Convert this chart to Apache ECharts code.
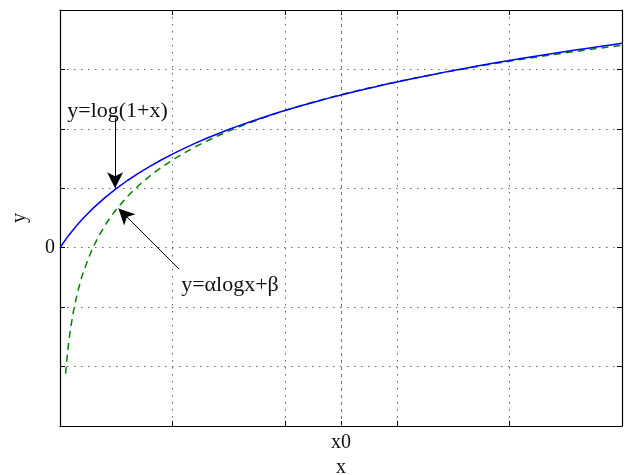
<!DOCTYPE html>
<html>
<head>
<meta charset="utf-8">
<script src="https://cdn.jsdelivr.net/npm/echarts@6.0.0/dist/echarts.min.js"></script>
<style>
  html, body { margin: 0; padding: 0; background: #ffffff; }
  #chart { width: 638px; height: 475px; }
</style>
</head>
<body>
<div id="chart"></div>
<script>
// Exact curve y = log(1 + x)
const xLog = [0, 0.025, 0.05, 0.075, 0.1, 0.15, 0.2, 0.25, 0.3, 0.4, 0.5, 0.6, 0.7, 0.8, 0.9,
  1.0, 1.1, 1.2, 1.3, 1.4, 1.5, 1.6, 1.7, 1.8, 1.9, 2.0, 2.1, 2.2, 2.3, 2.4, 2.5, 2.6, 2.7, 2.8, 2.9,
  3.0, 3.1, 3.2, 3.3, 3.4, 3.5, 3.6, 3.7, 3.8, 3.9, 4.0, 4.1, 4.2, 4.3, 4.4, 4.5, 4.6, 4.7, 4.8, 4.9, 5.0];
const yLog = [0, 0.070, 0.137, 0.200, 0.261, 0.376, 0.483, 0.581, 0.674, 0.843, 0.994, 1.131, 1.255, 1.370, 1.476,
  1.575, 1.668, 1.755, 1.837, 1.914, 1.988, 2.058, 2.125, 2.188, 2.249, 2.308, 2.364, 2.418, 2.470, 2.521, 2.569, 2.616, 2.662, 2.706, 2.749,
  2.790, 2.831, 2.870, 2.908, 2.946, 2.982, 3.017, 3.052, 3.086, 3.119, 3.151, 3.182, 3.213, 3.243, 3.273, 3.302, 3.330, 3.358, 3.385, 3.412, 3.439];

// Approximation y = alpha*log(x) + beta, tangent to the exact curve at x0
const xFit = [0.05, 0.06, 0.07, 0.08, 0.09, 0.1, 0.12, 0.14, 0.16, 0.18, 0.2, 0.25, 0.3, 0.35, 0.4, 0.45, 0.5, 0.6, 0.7, 0.8, 0.9,
  1.0, 1.1, 1.2, 1.3, 1.4, 1.5, 1.6, 1.7, 1.8, 1.9, 2.0, 2.1, 2.2, 2.3, 2.4, 2.5, 2.6, 2.7, 2.8, 2.9,
  3.0, 3.1, 3.2, 3.3, 3.4, 3.5, 3.6, 3.7, 3.8, 3.9, 4.0, 4.1, 4.2, 4.3, 4.4, 4.5, 4.6, 4.7, 4.8, 4.9, 5.0];
const yFit = [-2.120, -1.901, -1.716, -1.556, -1.415, -1.288, -1.069, -0.884, -0.724, -0.583, -0.456, -0.189, 0.030, 0.215, 0.375, 0.517, 0.643, 0.862, 1.047, 1.207, 1.349,
  1.475, 1.589, 1.694, 1.790, 1.879, 1.962, 2.039, 2.112, 2.180, 2.245, 2.307, 2.365, 2.421, 2.474, 2.525, 2.575, 2.622, 2.667, 2.711, 2.753,
  2.793, 2.833, 2.871, 2.908, 2.943, 2.978, 3.012, 3.045, 3.077, 3.108, 3.139, 3.168, 3.197, 3.225, 3.253, 3.280, 3.306, 3.332, 3.357, 3.382, 3.406];

// Axis ticks
const xMin = 0, xMax = 5, xStep = 1;
const yMin = -3, yMax = 4, yStep = 1;
const x0Value = 2.5;
const xTickValues = [1, 2, 2.5, 3, 4];
const xLabelText = 'x0';
const yLabelValue = 0;

// Annotations: [tail, head] in data units
const arrowLog = [[0.49, 2.18], [0.49, 1.0]];
const arrowFit = [[1.06, -0.36], [0.52, 0.66]];
const textLog = { pos: [0.512, 2.30], text: 'y=log(1+x)' };
const textFit = { pos: [1.512, -0.63], text: 'y=\u03b1logx+\u03b2' };

const serif = '"Liberation Serif", "DejaVu Serif", serif';
const gridDots = { color: '#666666', width: 1, type: [1.5, 5.5] };

const chart = echarts.init(document.getElementById('chart'), null, { renderer: 'canvas' });

const tickStyle = { show: true, inside: true, length: 5, lineStyle: { color: '#000', width: 1 } };
const axisLineStyle = { show: true, onZero: false, lineStyle: { color: '#000', width: 1.2 } };

chart.setOption({
  animation: false,
  backgroundColor: '#ffffff',
  grid: { left: 60, right: 16, top: 10, bottom: 49, containLabel: false, outerBoundsMode: 'none' },
  xAxis: [
    {
      type: 'value', min: xMin, max: xMax, interval: xStep, position: 'bottom',
      name: 'x', nameLocation: 'middle', nameGap: 30,
      nameTextStyle: { fontFamily: serif, fontSize: 20, color: '#111' },
      axisLine: axisLineStyle,
      axisTick: Object.assign({}, tickStyle, { customValues: xTickValues }),
      axisLabel: {
        show: true, customValues: [x0Value], margin: 7,
        fontFamily: serif, fontSize: 20, color: '#111',
        formatter: v => (v === x0Value ? xLabelText : '')
      },
      splitLine: { show: true, lineStyle: gridDots }
    },
    {
      type: 'value', min: xMin, max: xMax, interval: xStep, position: 'top',
      axisLine: axisLineStyle,
      axisTick: Object.assign({}, tickStyle, { customValues: xTickValues }),
      axisLabel: { show: false },
      splitLine: { show: false }
    }
  ],
  yAxis: [
    {
      type: 'value', min: yMin, max: yMax, interval: yStep, position: 'left',
      name: 'y', nameLocation: 'middle', nameGap: 30,
      nameTextStyle: { fontFamily: serif, fontSize: 20, color: '#111' },
      axisLine: axisLineStyle,
      axisTick: tickStyle,
      axisLabel: {
        show: true, margin: 5, fontFamily: serif, fontSize: 20, color: '#111',
        formatter: v => (v === yLabelValue ? String(yLabelValue) : '')
      },
      splitLine: { show: true, lineStyle: gridDots }
    },
    {
      type: 'value', min: yMin, max: yMax, interval: yStep, position: 'right',
      axisLine: axisLineStyle,
      axisTick: tickStyle,
      axisLabel: { show: false },
      splitLine: { show: false }
    }
  ],
  series: [
    {
      name: 'y=log(1+x)',
      type: 'line',
      xAxisIndex: 0, yAxisIndex: 0,
      data: xLog.map((x, i) => [x, yLog[i]]),
      showSymbol: false,
      smooth: false,
      lineStyle: { color: '#0000ff', width: 1.5 },
      z: 3,
      markLine: {
        silent: true,
        symbol: ['none', 'arrow'],
        symbolSize: [12, 16],
        label: { show: false },
        lineStyle: { color: '#000000', width: 1, type: 'solid' },
        data: [
          [{ coord: arrowLog[0] }, { coord: arrowLog[1] }],
          [{ coord: arrowFit[0] }, { coord: arrowFit[1] }]
        ]
      },
      markPoint: {
        silent: true,
        symbol: 'circle',
        symbolSize: 1,
        itemStyle: { color: 'rgba(0,0,0,0)' },
        label: {
          show: true, position: 'inside',
          fontFamily: serif, fontSize: 22, color: '#111'
        },
        data: [
          { coord: textLog.pos, label: { formatter: textLog.text } },
          { coord: textFit.pos, label: { formatter: textFit.text } }
        ]
      }
    },
    {
      name: 'y=alogx+b',
      type: 'line',
      xAxisIndex: 0, yAxisIndex: 0,
      data: xFit.map((x, i) => [x, yFit[i]]),
      showSymbol: false,
      smooth: false,
      lineStyle: { color: '#008000', width: 1.5, type: [7, 5] },
      z: 2,
      markLine: {
        silent: true,
        symbol: ['none', 'none'],
        label: { show: false },
        lineStyle: gridDots,
        data: [{ xAxis: x0Value }]
      }
    }
  ]
});
</script>
</body>
</html>
